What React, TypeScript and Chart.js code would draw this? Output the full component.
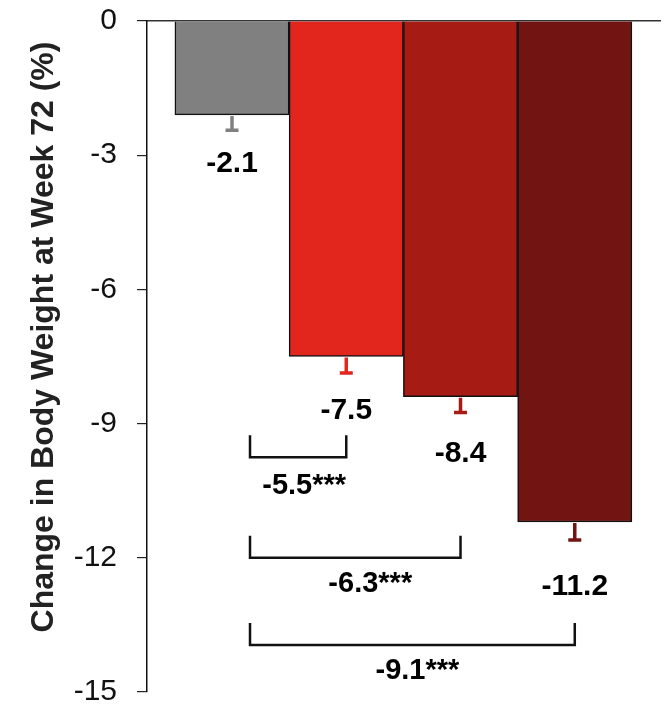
import React, { useEffect, useRef } from "react";
import { Chart, registerables } from "chart.js";

Chart.register(...registerables);

// ---- data ----
const categories = ["Placebo", "Dose 1", "Dose 2", "Dose 3"];
const changes = [-2.1, -7.5, -8.4, -11.2];
const errors = [0.34, 0.37, 0.35, 0.4];
const valueLabels = ["-2.1", "-7.5", "-8.4", "-11.2"];
const yTickValues = [0, -3, -6, -9, -12, -15];
const compareFrom = [0, 0, 0];
const compareTo = [1, 2, 3];
const compareLabels = ["-5.5***", "-6.3***", "-9.1***"];
const axisTitle = "Change in Body Weight at Week 72 (%)";

// ---- styles / layout ----
const barColors = ["#808080", "#e2261d", "#a71b15", "#721411"];
const FONT = "'Liberation Sans', Arial, sans-serif";
const labelGaps = [42, 46, 50, 55]; // px below error-bar end (baseline)
const bracketLevels = [-9.75, -12.0, -13.95];
const bracketLabelDx = [6, 15, 5];
const bracketLabelDy = [37, 34, 34];

const overlayPlugin = {
  id: "overlay",
  afterDatasetsDraw(chart: any) {
    const ctx = chart.ctx as CanvasRenderingContext2D;
    const xs = chart.scales.x;
    const ys = chart.scales.y;
    ctx.save();
    // error bars
    changes.forEach((v, i) => {
      const x = xs.getPixelForValue(i);
      const y0 = ys.getPixelForValue(v);
      const y1 = ys.getPixelForValue(v - errors[i]);
      ctx.strokeStyle = barColors[i];
      ctx.lineWidth = 3.5;
      ctx.lineCap = "butt";
      ctx.beginPath();
      ctx.moveTo(x, y0 + 1);
      ctx.lineTo(x, y1);
      ctx.moveTo(x - 6.5, y1);
      ctx.lineTo(x + 6.5, y1);
      ctx.stroke();
      // value label
      ctx.fillStyle = "#000";
      ctx.font = `bold 30px ${FONT}`;
      ctx.textAlign = "center";
      ctx.textBaseline = "alphabetic";
      ctx.fillText(valueLabels[i], x, y1 + labelGaps[i]);
    });
    // comparison brackets
    compareLabels.forEach((lab, k) => {
      const xl = xs.getPixelForValue(compareFrom[k]) + 18;
      const xr = xs.getPixelForValue(compareTo[k]);
      const yb = ys.getPixelForValue(bracketLevels[k]);
      ctx.strokeStyle = "#111";
      ctx.lineWidth = 2.5;
      ctx.lineJoin = "miter";
      ctx.beginPath();
      ctx.moveTo(xl, yb - 22);
      ctx.lineTo(xl, yb);
      ctx.lineTo(xr, yb);
      ctx.lineTo(xr, yb - 22);
      ctx.stroke();
      ctx.fillStyle = "#000";
      ctx.font = `bold 29px ${FONT}`;
      ctx.textAlign = "center";
      ctx.textBaseline = "alphabetic";
      ctx.fillText(lab, (xl + xr) / 2 + bracketLabelDx[k], yb + bracketLabelDy[k]);
    });
    // y axis title
    ctx.translate(53, 337);
    ctx.rotate(-Math.PI / 2);
    ctx.font = `bold 32px ${FONT}`;
    ctx.fillStyle = "#222";
    ctx.textAlign = "center";
    ctx.textBaseline = "alphabetic";
    ctx.fillText(axisTitle, 0, 0);
    ctx.restore();
  },
};

export default function App() {
  const ref = useRef<HTMLCanvasElement | null>(null);
  useEffect(() => {
    if (!ref.current) return;
    const chart = new Chart(ref.current, {
      type: "bar",
      data: {
        labels: categories,
        datasets: [
          {
            label: "Change in body weight",
            data: changes.map((v, i) => ({ x: i, y: v })) as any,
            backgroundColor: barColors,
            borderColor: "#111",
            borderWidth: 1.5,
            barPercentage: 1,
            categoryPercentage: 1,
          },
        ],
      },
      options: {
        responsive: false,
        animation: false,
        devicePixelRatio: 1,
        layout: { padding: { left: 0, right: 6, top: 21, bottom: 12 } },
        plugins: { legend: { display: false }, tooltip: { enabled: false } },
        scales: {
          x: {
            type: "linear",
            position: "top",
            offset: false,
            min: -0.744,
            max: 3.746,
            afterBuildTicks: (scale: any) => {
              scale.ticks = categories.map((_, i) => ({ value: i }));
            },
            ticks: { display: false },
            grid: { display: false, drawTicks: false, offset: false },
            border: { display: true, color: "#333", width: 1.5 },
          },
          y: {
            type: "linear",
            min: -15,
            max: 0,
            afterBuildTicks: (scale: any) => {
              scale.ticks = yTickValues.map((v) => ({ value: v }));
            },
            afterFit: (scale: any) => {
              scale.width = 147;
              scale.paddingTop = 0;
              scale.paddingBottom = 0;
            },
            ticks: {
              color: "#111",
              padding: 20,
              font: { family: FONT, size: 30 },
            },
            grid: {
              display: true,
              drawOnChartArea: false,
              drawTicks: true,
              tickLength: 10,
              color: "#222",
              lineWidth: 1.2,
            },
            border: { display: true, color: "#111", width: 1.5 },
          },
        },
      },
      plugins: [overlayPlugin],
    });
    return () => chart.destroy();
  }, []);
  return (
    <div style={{ position: "fixed", left: 0, top: 0, width: 666, height: 704, background: "#fff" }}>
      <canvas ref={ref} width={666} height={704} style={{ width: 666, height: 704, display: "block" }} />
    </div>
  );
}
